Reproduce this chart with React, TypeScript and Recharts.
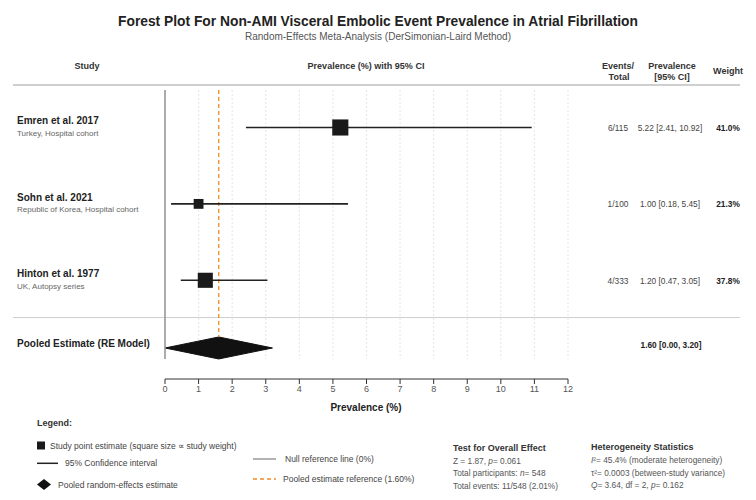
import React from 'react';
import { ComposedChart, Area, Scatter, XAxis, YAxis, ReferenceLine, CartesianGrid } from 'recharts';

// Study-level data
const studyNames = ['Emren et al. 2017', 'Sohn et al. 2021', 'Hinton et al. 1977'];
const studyDetails = ['Turkey, Hospital cohort', 'Republic of Korea, Hospital cohort', 'UK, Autopsy series'];
const events = [6, 1, 4];
const totals = [115, 100, 333];
const prevalence = [5.22, 1.0, 1.2];
const ciLower = [2.41, 0.18, 0.47];
const ciUpper = [10.92, 5.45, 3.05];
const weights = [41.0, 21.3, 37.8];

// Pooled random-effects result
const pooledEstimate = 1.6;
const pooledLower = 0.0;
const pooledUpper = 3.2;

const xTicks = [0, 1, 2, 3, 4, 5, 6, 7, 8, 9, 10, 11, 12];

// Vertical layout in row units (y axis is reversed, one study per unit)
const ROW_POS = [0, 1, 2];
const POOLED_POS = 2.886;
const Y_DOMAIN: [number, number] = [-0.556, 3.292];
const LINE_TOP = -0.49;
const LINE_BOTTOM = 3.03;
const DIAMOND_HALF = 0.144;
const ROW_PX = [127.5, 204, 280.5];

const SANS = '"Liberation Sans", Arial, sans-serif';

const studyPoints = studyNames.map((name, i) => ({
  name,
  x: prevalence[i],
  row: ROW_POS[i],
  weight: weights[i],
}));

const diamond = [
  { x: pooledLower, band: [POOLED_POS, POOLED_POS] },
  { x: pooledEstimate, band: [POOLED_POS - DIAMOND_HALF, POOLED_POS + DIAMOND_HALF] },
  { x: pooledUpper, band: [POOLED_POS, POOLED_POS] },
];

const WeightSquare = (props: any) => {
  const { cx, cy, payload } = props;
  const s = 3 + payload.weight * 0.32;
  return <rect x={cx - s / 2} y={cy - s / 2} width={s} height={s} fill="#1a1a1a" />;
};

const Txt = ({ x, y, children, align = 'left', size = 8, weight = 400, color = '#444', squeeze = 1 }: any) => {
  const tx = align === 'center' ? '-50%' : align === 'right' ? '-100%' : '0';
  const origin = align === 'center' ? 'center' : align === 'right' ? 'right' : 'left';
  return (
    <div
      style={{
        position: 'absolute',
        left: x,
        top: y,
        transform: `translate(${tx}, -50%)`,
        fontSize: size,
        fontWeight: weight,
        color,
        fontFamily: SANS,
        whiteSpace: 'nowrap',
        lineHeight: 1,
      }}
    >
      <span style={{ display: 'inline-block', transform: `scaleX(${squeeze})`, transformOrigin: origin }}>{children}</span>
    </div>
  );
};

const Rule = ({ y }: { y: number }) => (
  <div style={{ position: 'absolute', left: 13, top: y - 0.75, width: 727, height: 1.5, background: '#cfcfcf' }} />
);

export default function App() {
  return (
    <div style={{ position: 'absolute', left: 0, top: 0, width: 756, height: 500, background: '#fff', overflow: 'hidden' }}>
      <Txt x={378} y={20} align="center" size={15} weight={700} color="#222" squeeze={0.92}>
        Forest Plot For Non-AMI Visceral Embolic Event Prevalence in Atrial Fibrillation
      </Txt>
      <Txt x={378} y={37} align="center" size={10} color="#555">
        Random-Effects Meta-Analysis (DerSimonian-Laird Method)
      </Txt>

      {/* column headers */}
      <Txt x={87} y={66} align="center" size={9.5} weight={700} color="#333" squeeze={0.95}>Study</Txt>
      <Txt x={366} y={66} align="center" size={9.5} weight={700} color="#333" squeeze={0.95}>Prevalence (%) with 95% CI</Txt>
      <Txt x={618} y={66} align="center" size={9.5} weight={700} color="#333" squeeze={0.95}>Events/</Txt>
      <Txt x={619} y={77} align="center" size={9.5} weight={700} color="#333" squeeze={0.95}>Total</Txt>
      <Txt x={672} y={66} align="center" size={9.5} weight={700} color="#333" squeeze={0.95}>Prevalence</Txt>
      <Txt x={672} y={77} align="center" size={9.5} weight={700} color="#333" squeeze={0.95}>[95% CI]</Txt>
      <Txt x={728} y={71} align="center" size={9.5} weight={700} color="#333" squeeze={0.95}>Weight</Txt>
      <Rule y={85} />
      <Rule y={317.5} />

      <ComposedChart
        width={756}
        height={500}
        data={diamond}
        margin={{ top: 85, right: 188, bottom: 91, left: 165 }}
        style={{ position: 'absolute', left: 0, top: 0 }}
      >
        <CartesianGrid horizontal={false} y={90} height={269} stroke="#dedede" strokeWidth={0.8} strokeDasharray="2 2" />
        <XAxis
          dataKey="x"
          type="number"
          domain={[0, 12]}
          ticks={xTicks}
          allowDataOverflow
          height={30}
          tickSize={5}
          stroke="#333"
          tick={{ fill: '#555', fontSize: 9, fontFamily: SANS }}
        />
        <YAxis dataKey="row" type="number" domain={Y_DOMAIN} allowDataOverflow reversed hide />

        <ReferenceLine
          segment={[{ x: 0, y: LINE_TOP }, { x: 0, y: LINE_BOTTOM }]}
          stroke="#999"
          strokeWidth={1.6}
        />
        <ReferenceLine
          segment={[{ x: pooledEstimate, y: LINE_TOP }, { x: pooledEstimate, y: POOLED_POS - DIAMOND_HALF }]}
          stroke="#f08a24"
          strokeWidth={1.3}
          strokeDasharray="4 3"
        />

        {studyPoints.map((p, i) => (
          <ReferenceLine
            key={`ci${i}`}
            segment={[{ x: ciLower[i], y: p.row }, { x: ciUpper[i], y: p.row }]}
            stroke="#222"
            strokeWidth={1.6}
          />
        ))}

        <Area
          dataKey="band"
          type="linear"
          stroke="#111"
          strokeWidth={1}
          fill="#111"
          fillOpacity={1}
          isAnimationActive={false}
          dot={false}
          activeDot={false}
        />
        <Scatter data={studyPoints} shape={WeightSquare} isAnimationActive={false} />
      </ComposedChart>

      {/* study labels and columns */}
      {studyNames.map((name, i) => (
        <React.Fragment key={name}>
          <Txt x={17} y={ROW_PX[i] - 6.5} size={10} weight={700} color="#222">{name}</Txt>
          <Txt x={17} y={ROW_PX[i] + 6} size={8} color="#666">{studyDetails[i]}</Txt>
          <Txt x={618} y={ROW_PX[i]} align="center" size={8.3} color="#444">{`${events[i]}/${totals[i]}`}</Txt>
          <Txt x={670} y={ROW_PX[i]} align="center" size={8.3} color="#444">
            {`${prevalence[i].toFixed(2)} [${ciLower[i].toFixed(2)}, ${ciUpper[i].toFixed(2)}]`}
          </Txt>
          <Txt x={728} y={ROW_PX[i]} align="center" size={8.3} weight={700} color="#222">{`${weights[i].toFixed(1)}%`}</Txt>
        </React.Fragment>
      ))}
      <Txt x={17} y={344} size={10} weight={700} color="#222">Pooled Estimate (RE Model)</Txt>
      <Txt x={671} y={345} align="center" size={8.3} weight={700} color="#222">
        {`${pooledEstimate.toFixed(2)} [${pooledLower.toFixed(2)}, ${pooledUpper.toFixed(2)}]`}
      </Txt>

      <Txt x={366} y={408} align="center" size={10} weight={700} color="#222">Prevalence (%)</Txt>

      {/* legend */}
      <svg width={756} height={500} style={{ position: 'absolute', left: 0, top: 0, pointerEvents: 'none' }}>
        <rect x={37} y={441.5} width={8} height={8} fill="#1a1a1a" />
        <line x1={37} x2={58} y1={463.3} y2={463.3} stroke="#222" strokeWidth={1.5} />
        <polygon points="37,484.5 44,479 51,484.5 44,490" fill="#111" />
        <line x1={253} x2={276} y1={459} y2={459} stroke="#999" strokeWidth={1.5} />
        <line x1={253} x2={276} y1={479} y2={479} stroke="#f08a24" strokeWidth={1.5} strokeDasharray="4 3" />
      </svg>
      <Txt x={37} y={423} size={9} weight={700} color="#333">Legend:</Txt>
      <Txt x={50} y={445.5} size={8.5} color="#444">Study point estimate (square size ∝ study weight)</Txt>
      <Txt x={65} y={463.3} size={8.5} color="#444">95% Confidence interval</Txt>
      <Txt x={58} y={484.5} size={8.5} color="#444">Pooled random-effects estimate</Txt>
      <Txt x={285} y={459} size={8.5} color="#444">Null reference line (0%)</Txt>
      <Txt x={283} y={479} size={8.5} color="#444">{`Pooled estimate reference (${pooledEstimate.toFixed(2)}%)`}</Txt>

      <Txt x={453} y={447.5} size={9} weight={700} color="#333">Test for Overall Effect</Txt>
      <Txt x={453} y={461} size={8.3} color="#555">Z = 1.87, <i>p</i>= 0.061</Txt>
      <Txt x={453} y={473.3} size={8.3} color="#555">Total participants: <i>n</i>= 548</Txt>
      <Txt x={453} y={485.7} size={8.3} color="#555">Total events: 11/548 (2.01%)</Txt>

      <Txt x={591} y={447} size={9} weight={700} color="#333">Heterogeneity Statistics</Txt>
      <Txt x={591} y={460} size={8.3} color="#555"><i>I</i>²= 45.4% (moderate heterogeneity)</Txt>
      <Txt x={591} y={472.7} size={8.3} color="#555">τ²= 0.0003 (between-study variance)</Txt>
      <Txt x={591} y={485} size={8.3} color="#555"><i>Q</i>= 3.64, df = 2, <i>p</i>= 0.162</Txt>
    </div>
  );
}
